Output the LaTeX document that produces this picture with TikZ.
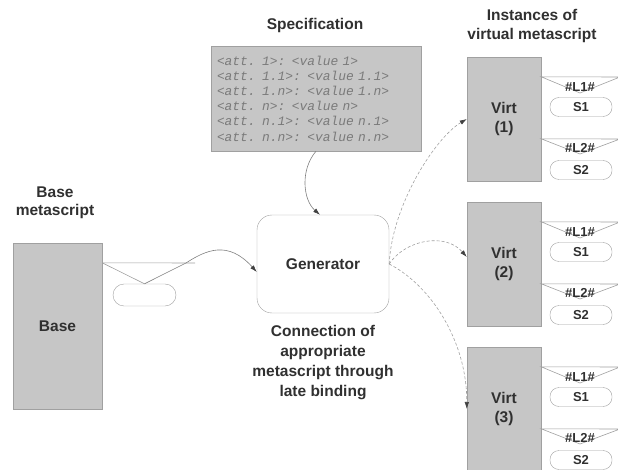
\documentclass[tikz,border=0pt]{standalone}
\usepackage{fontspec}
\setmainfont{Liberation Sans}
\setmonofont{Liberation Mono}
\usetikzlibrary{arrows.meta}

\definecolor{boxgray}{HTML}{C6C6C6}
\definecolor{edgegray}{HTML}{A0A0A0}
\definecolor{txtgray}{HTML}{303030}
\definecolor{specgray}{HTML}{7A7A7A}
\definecolor{tipgray}{HTML}{404040}

\begin{document}
\begin{tikzpicture}[x=1pt,y=-1pt,
    every node/.style={text=txtgray,font=\fontsize{15.5}{18.5}\selectfont\bfseries},
    block/.style={draw=edgegray,fill=boxgray,inner sep=0pt,align=center},
    pill/.style={draw=edgegray,rounded corners=9pt,minimum width=62pt,
      minimum height=19pt,inner sep=0pt,font=\fontsize{13}{15}\selectfont\bfseries},
    tline/.style={draw=edgegray,line width=0.6pt},
    arr/.style={draw=gray,line width=0.6pt,-{Latex[length=7pt,width=4.5pt,color=tipgray]}},
    darr/.style={arr,draw=edgegray,dash pattern=on 3pt off 2pt}]
  \clip (0,0) rectangle (618,470) ;
  % titles
  \node (spechead) at (315,25) {Specification} ;
  \node[align=center] (insthead) at (532,26) {Instances of\\virtual metascript} ;
  \node[align=center] (basehead) at (55,203) {Base\\metascript} ;
  % specification
  \node[block,minimum width=210pt,minimum height=105pt,text width=198pt,align=left,
    text=specgray,font=\fontsize{12.9}{15.2}\selectfont\ttfamily\itshape] %
    (spec) at (316,98.5) {<att. 1>: <value 1>\\<att. 1.1>: <value 1.1>\\%
    <att. 1.n>: <value 1.n>\\<att. n>: <value n>\\<att. n.1>: <value n.1>\\%
    <att. n.n>: <value n.n>} ;
  % generator
  \node[draw=edgegray,rounded corners=15pt,minimum width=132pt,minimum height=98pt] %
    (gen) at (323,264) {Generator} ;
  \node[align=center,font=\fontsize{15.5}{19.7}\selectfont\bfseries] %
    (caption) at (323,362.5) {Connection of\\appropriate\\metascript through\\late binding} ;
  % base metascript
  \node[block,minimum width=89pt,minimum height=166pt] (base) at (57.5,326) {Base} ;
  \node[pill,minimum width=63pt,minimum height=22pt,rounded corners=11pt] %
    (bpill) at (144.5,295) {} ;
  \coordinate (bleft) at ([yshift=-20pt]base.north east) ;
  \coordinate (bright) at (195,263) ;
  \coordinate (bcross) at (186,263) ;
  \draw[tline] (bleft) -- (bright) ;
  \draw[tline] (bleft) -- (bpill.north) ;
  \draw[arr] (bpill.north) -- (bcross) .. controls (206,250) and (228,240) .. %
    ([yshift=-8pt]gen.west) ;
  \draw[arr] (spec.south) .. controls (300,170) and (303,200) .. ([xshift=-3pt]gen.north) ;
  % instances
  \foreach \i/\t in {1/57,2/202,3/347}{
    \node[block,minimum width=74pt,minimum height=124pt] (virt\i) at (504,\t+62) {Virt\\(\i)} ;
    \draw[tline] ([yshift=-20pt]virt\i.north east) -- (620,\t+20) -- (580,\t+36) -- cycle ;
    \draw[tline] ([yshift=-82pt]virt\i.north east) -- (620,\t+82) -- (580,\t+97) -- cycle ;
    \node[font=\fontsize{13}{15}\selectfont\bfseries] (la\i) at (580,\t+30) {\#L1\#} ;
    \node[font=\fontsize{13}{15}\selectfont\bfseries] (lb\i) at (580,\t+91) {\#L2\#} ;
    \node[pill] (sa\i) at (581,\t+50) {S1} ;
    \node[pill] (sb\i) at (581,\t+113) {S2} ;
  }
  \draw[darr] (gen.east) .. controls (392,205) and (435,138) .. (virt1.west) ;
  \draw[darr] (gen.east) .. controls (405,240) and (445,232) .. ([yshift=7pt]virt2.west) ;
  \draw[darr] (gen.east) .. controls (430,285) and (467,340) .. (virt3.west) ;
\end{tikzpicture}
\end{document}
